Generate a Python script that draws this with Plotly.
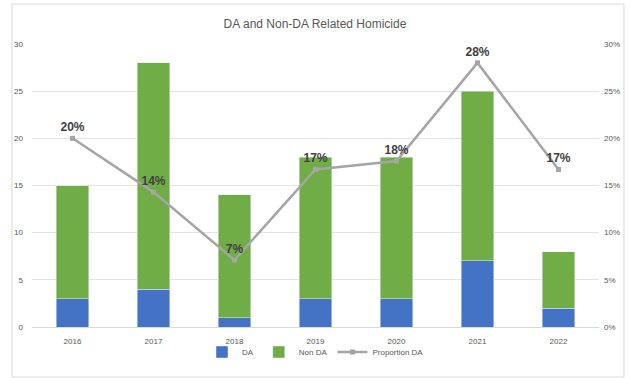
import plotly.graph_objects as go

years = ["2016", "2017", "2018", "2019", "2020", "2021", "2022"]
da = [3, 4, 1, 3, 3, 7, 2]
non_da = [12, 24, 13, 15, 15, 18, 6]
proportion = [0.20, 0.143, 0.071, 0.167, 0.176, 0.28, 0.167]
prop_labels = ["20%", "14%", "7%", "17%", "18%", "28%", "17%"]

fig = go.Figure()
fig.add_trace(go.Bar(x=years, y=da, name="DA", marker_color="#4472C4"))
fig.add_trace(go.Bar(x=years, y=non_da, name="Non DA", marker_color="#70AD47"))
fig.add_trace(go.Scatter(
    x=years, y=proportion, name="Proportion DA", yaxis="y2",
    mode="lines+markers+text", text=prop_labels, textposition="top center",
    textfont=dict(family="Liberation Sans", size=12, color="#404040", weight="bold"),
    line=dict(color="#A5A5A5", width=2.5),
    marker=dict(color="#A5A5A5", size=5, symbol="square"),
))

tickfont = dict(family="Liberation Sans", size=8, color="#595959")
fig.update_layout(
    width=630, height=378,
    margin=dict(l=32, r=31, t=44, b=51, autoexpand=False),
    paper_bgcolor="white", plot_bgcolor="white",
    barmode="stack", bargap=0.6,
    title=dict(text="DA and Non-DA Related Homicide", x=0.5, xanchor="center",
               yref="container", y=1 - 24 / 378, yanchor="middle",
               font=dict(family="Liberation Sans", size=12, color="#595959")),
    xaxis=dict(tickfont=tickfont, showline=True, linecolor="#D9D9D9", ticks="", showgrid=False,
               ticklabelstandoff=6),
    yaxis=dict(range=[0, 30], dtick=5, tickfont=tickfont, gridcolor="#E3E3E3", gridwidth=1,
               zeroline=False, ticks="", ticklabelstandoff=8),
    yaxis2=dict(range=[0, 0.30], dtick=0.05, tickformat=".0%", overlaying="y", side="right",
                tickfont=tickfont, showgrid=False, zeroline=False, ticks="", ticklabelstandoff=4),
    legend=dict(orientation="h", x=0.5, xanchor="center", yref="container", y=1 - 352 / 378,
                yanchor="middle", font=tickfont, traceorder="normal", itemwidth=30,
                bgcolor="rgba(0,0,0,0)"),
    showlegend=True,
    shapes=[dict(type="rect", xref="paper", yref="paper", x0=-0.0353, x1=1.044, y0=-0.177, y1=1.141,
                 line=dict(color="#D9D9D9", width=1), layer="below")],
)
fig.write_html("out.html")
